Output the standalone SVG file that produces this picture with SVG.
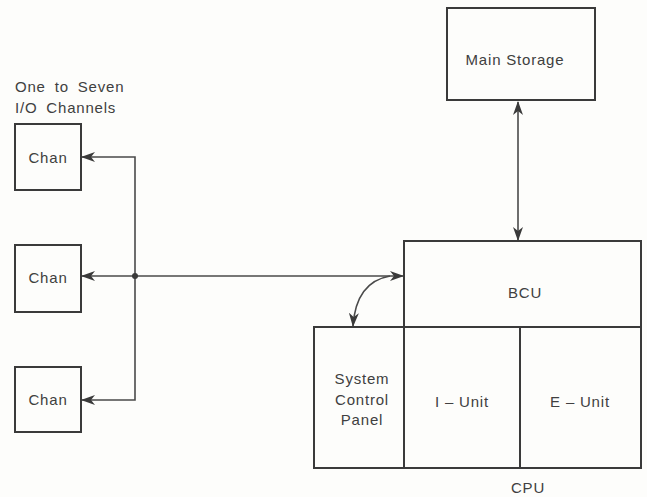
<svg xmlns="http://www.w3.org/2000/svg" width="647" height="497" viewBox="0 0 647 497">
<style>
.box{fill:none;stroke:#3a3a3a;stroke-width:2}
.ln{fill:none;stroke:#4a4a4a;stroke-width:1.6}
.t{font-family:"Liberation Sans",Arial,sans-serif;font-size:15px;letter-spacing:0.8px;fill:#404040;text-anchor:middle}
.tl{font-family:"Liberation Sans",Arial,sans-serif;font-size:15px;letter-spacing:0.8px;word-spacing:4px;fill:#404040}
</style>
<defs>
<marker id="ah" viewBox="0 0 14 10" refX="13" refY="5" markerWidth="14" markerHeight="10" markerUnits="userSpaceOnUse" orient="auto-start-reverse">
<path d="M0,0 L14,5 L0,10 L4,5 Z" fill="#3a3a3a"/>
</marker>
</defs>
<rect width="647" height="497" fill="#fdfdfb"/>
<text class="tl" x="15" y="92">One to Seven</text>
<text class="tl" x="15" y="113">I/O  Channels</text>
<g id="chan1"><rect class="box" x="15" y="124" width="66" height="66"/><text class="t" x="48" y="163">Chan</text></g>
<g id="chan2"><rect class="box" x="15" y="245" width="66" height="67"/><text class="t" x="48" y="283">Chan</text></g>
<g id="chan3"><rect class="box" x="15" y="367" width="66" height="65"/><text class="t" x="48" y="405">Chan</text></g>
<g id="main-storage"><rect class="box" x="447" y="8" width="148" height="92"/><text class="t" x="515" y="65">Main Storage</text></g>
<g id="bcu"><rect class="box" x="404" y="241" width="237" height="86"/><text class="t" x="525" y="298">BCU</text></g>
<g id="scp"><rect class="box" x="314" y="327" width="90" height="141"/>
<text class="t" x="362" y="384">System</text><text class="t" x="362" y="405">Control</text><text class="t" x="362" y="425">Panel</text></g>
<g id="i-unit"><rect class="box" x="404" y="327" width="116" height="141"/><text class="t" x="462" y="407">I – Unit</text></g>
<g id="e-unit"><rect class="box" x="520" y="327" width="121" height="141"/><text class="t" x="580" y="407">E – Unit</text></g>
<text class="t" x="528" y="493">CPU</text>
<g id="connectors">
<line class="ln" x1="518" y1="102" x2="518" y2="240" marker-start="url(#ah)" marker-end="url(#ah)"/>
<line class="ln" x1="135" y1="276" x2="403" y2="276" marker-end="url(#ah)"/>
<line class="ln" x1="135" y1="276" x2="82" y2="276" marker-end="url(#ah)"/>
<polyline class="ln" points="135,276 135,157 82,157" marker-end="url(#ah)"/>
<polyline class="ln" points="135,276 135,400 82,400" marker-end="url(#ah)"/>
<circle cx="135" cy="276" r="3" fill="#3a3a3a"/>
<path class="ln" d="M390,276 Q356,282 353,326" marker-end="url(#ah)"/>
</g>
</svg>
